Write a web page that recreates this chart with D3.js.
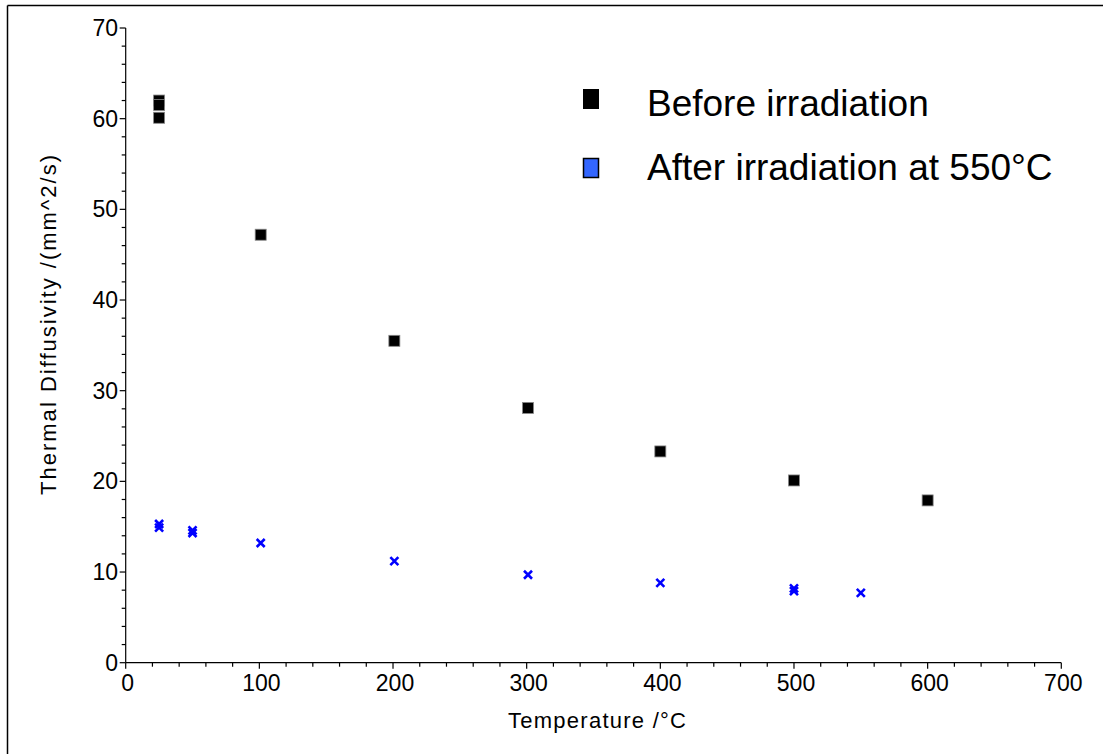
<!DOCTYPE html>
<html><head><meta charset="utf-8">
<script src="https://cdn.jsdelivr.net/npm/d3@7"></script>
<style>body{margin:0;background:#fff;}svg{display:block;font-family:"Liberation Sans",Arial,sans-serif;}</style>
</head><body>
<svg id="c" width="1103" height="754"></svg>
<script>
const beforeT = [25, 25, 25, 101, 201, 301, 400, 500, 600];
const beforeD = [62.0, 61.5, 60.1, 47.2, 35.5, 28.1, 23.3, 20.1, 17.9];
const afterT = [25, 25, 50, 50, 101, 201, 301, 400, 500, 500, 550];
const afterD = [15.3, 14.9, 14.6, 14.3, 13.2, 11.2, 9.7, 8.8, 8.2, 7.9, 7.7];
const xTicks = [0, 100, 200, 300, 400, 500, 600, 700];
const yTicks = [0, 10, 20, 30, 40, 50, 60, 70];
const legendLabels = ["Before irradiation", "After irradiation at 550°C"];

const svg = d3.select("#c");
// frame
svg.append("line").attr("x1",7.5).attr("x2",1103).attr("y1",5.5).attr("y2",5.5).attr("stroke","#000").attr("stroke-width",1.5);
svg.append("line").attr("x1",7.5).attr("x2",7.5).attr("y1",5.5).attr("y2",754).attr("stroke","#000").attr("stroke-width",1.5);

const x = d3.scaleLinear().domain([0,700]).range([125.7,1061.3]);
const y = d3.scaleLinear().domain([0,70]).range([662.7,28]);

// x axis
const gx = svg.append("g").attr("transform","translate(0,662.7)");
gx.append("line").attr("x1",x(0)).attr("x2",x(700)).attr("stroke","#000").attr("stroke-width",1.2);
gx.selectAll(".mn").data(d3.range(0,701,20)).join("line")
  .attr("x1",d=>x(d)).attr("x2",d=>x(d)).attr("y1",0).attr("y2",d=>d%100===0?6:4).attr("stroke","#000").attr("stroke-width",1.2);
gx.selectAll("text").data(xTicks).join("text")
  .attr("x",d=>x(d)+2).attr("y",28).attr("text-anchor","middle").attr("font-size",23).text(d=>d);

// y axis
const gy = svg.append("g");
gy.append("line").attr("x1",x(0)).attr("x2",x(0)).attr("y1",y(0)).attr("y2",y(70)).attr("stroke","#000").attr("stroke-width",1.2);
gy.selectAll(".mn").data(d3.range(0,71,2)).join("line")
  .attr("x1",x(0)).attr("x2",d=>x(0)-(d%10===0?6:4)).attr("y1",d=>y(d)).attr("y2",d=>y(d)).attr("stroke","#000").attr("stroke-width",1.2);
gy.selectAll("text").data(yTicks).join("text")
  .attr("x",118).attr("y",d=>y(d)+8).attr("text-anchor","end").attr("font-size",23).text(d=>d);

// axis titles
svg.append("text").attr("x",597).attr("y",728).attr("text-anchor","middle").attr("font-size",22)
  .attr("textLength",178).attr("lengthAdjust","spacing").text("Temperature /°C");
svg.append("text").attr("transform","translate(56,325) rotate(-90)").attr("text-anchor","middle").attr("font-size",22)
  .attr("textLength",340).attr("lengthAdjust","spacing").text("Thermal Diffusivity /(mm^2/s)");

// before markers
const s = 11;
svg.selectAll(".b").data(beforeT.map((t,i)=>[t,beforeD[i]])).join("rect")
  .attr("x",d=>x(d[0])-s/2).attr("y",d=>y(d[1])-s/2).attr("width",s).attr("height",s)
  .attr("fill","#000").attr("stroke","#888").attr("stroke-width",0.8);

// after markers
const h = 4;
svg.selectAll(".a").data(afterT.map((t,i)=>[t,afterD[i]])).join("path")
  .attr("d",d=>{const cx=x(d[0]), cy=y(d[1]); return `M${cx-h},${cy-h}L${cx+h},${cy+h}M${cx-h},${cy+h}L${cx+h},${cy-h}`;})
  .attr("stroke","#0000ff").attr("stroke-width",2.6).attr("fill","none");

// legend
svg.append("rect").attr("x",583).attr("y",89).attr("width",16).attr("height",20).attr("fill","#000");
svg.append("rect").attr("x",583.5).attr("y",158.5).attr("width",15).attr("height",19).attr("fill","#3366ff").attr("stroke","#000").attr("stroke-width",1.5);
svg.append("text").attr("x",647).attr("y",115.5).attr("font-size",37).text(legendLabels[0]);
svg.append("text").attr("x",647).attr("y",179.5).attr("font-size",37).text(legendLabels[1]);
</script>
</body></html>
